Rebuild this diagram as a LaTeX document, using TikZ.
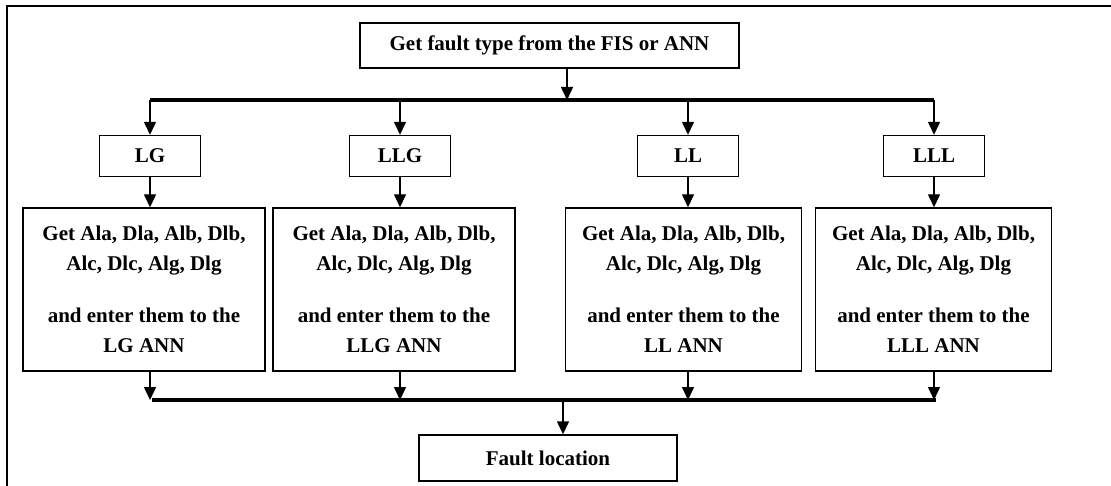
\documentclass[tikz,border=0pt]{standalone}
\usepackage{fontspec}
\setmainfont{Liberation Serif}
\usetikzlibrary{arrows.meta}

\begin{document}
\begin{tikzpicture}[x=1pt,y=-1pt,
  box/.style={draw,line width=1.4pt,inner sep=0pt,align=center,
    font=\fontsize{21}{30}\selectfont\bfseries},
  arr/.style={line width=1.4pt,-{Triangle[width=12pt,length=13pt]}},
  bus/.style={line width=3.8pt}]
\useasboundingbox (0,0) rectangle (1111,486);
% outer frame
\draw[line width=1.4pt] (7,486) -- (7,6) -- (1111,6);
\node[box,minimum width=379,minimum height=45] (top) at (549.5,45.5) {Get fault type from the FIS or ANN};
\node[box,minimum width=258,minimum height=46] (fault) at (548,458) {Fault location};
\coordinate (tb) at (567,100);
\coordinate (bb) at (563,400);
\draw[arr] (top.south -| tb) -- (tb);
\draw[bus] (150,100) -- (934,100);
\draw[bus] (152,400) -- (936,400);
\draw[arr] (bb) -- (fault.north -| bb);
\foreach \n/\t/\x/\bx/\w in {lg/LG/150/144/242, llg/LLG/400/394/242, ll/LL/688/683.5/236, lll/LLL/934/933.5/236}
{
\node[box,minimum width=101,minimum height=41] (\n) at (\x,156) {\t};
\node[box,minimum width=\w,minimum height=163] (\n big) at (\bx,289.5)
  {Get Ala, Dla, Alb, Dlb,\\ Alc, Dlc, Alg, Dlg\\[22pt] and enter them to the\\ \t{} ANN};
\draw[arr] (\x,100) -- (\n.north);
\draw[arr] (\n.south) -- (\n.south |- \n big.north);
\draw[arr] (\n.south |- \n big.south) -- (\x,400);
}
\end{tikzpicture}
\end{document}
